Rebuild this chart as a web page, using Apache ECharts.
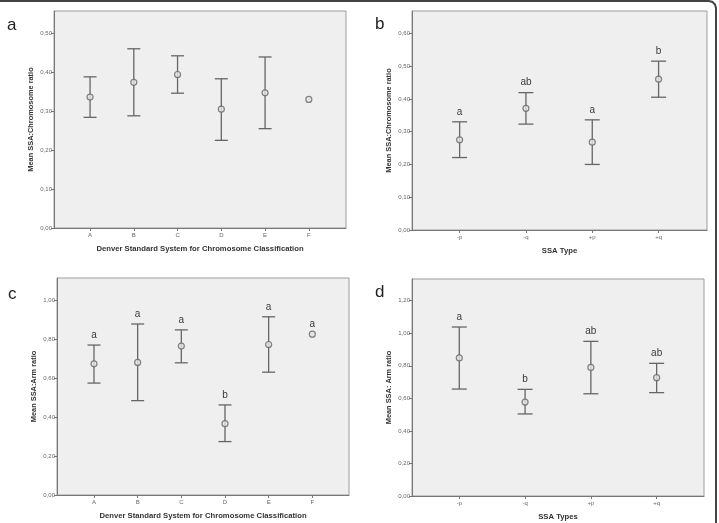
<!DOCTYPE html>
<html><head><meta charset="utf-8">
<script src="https://cdn.jsdelivr.net/npm/echarts@6/dist/echarts.min.js"></script>
<style>html,body{margin:0;padding:0;background:#fff}#c{width:719px;height:523px}</style>
</head><body><div id="c"></div>
<script>
// Panel a: SSA:Chromosome ratio by Denver group
var catsDenver = ['A','B','C','D','E','F'];
var aMean  = [0.336, 0.374, 0.394, 0.305, 0.347, 0.330];
var aUpper = [0.388, 0.460, 0.442, 0.383, 0.439, null];
var aLower = [0.284, 0.288, 0.346, 0.225, 0.255, null];
var aLetters = ['', '', '', '', '', ''];
var aTicks = [0, 0.1, 0.2, 0.3, 0.4, 0.5];

// Panel b: SSA:Chromosome ratio by SSA type
var catsType = ['-p','-q','+p','+q'];
var bMean  = [0.275, 0.371, 0.268, 0.460];
var bUpper = [0.330, 0.419, 0.336, 0.515];
var bLower = [0.221, 0.323, 0.200, 0.405];
var bLetters = ['a','ab','a','b'];
var bTicks = [0, 0.1, 0.2, 0.3, 0.4, 0.5, 0.6];

// Panel c: SSA:Arm ratio by Denver group
var cMean  = [0.673, 0.680, 0.764, 0.366, 0.772, 0.825];
var cUpper = [0.769, 0.877, 0.847, 0.462, 0.914, null];
var cLower = [0.574, 0.484, 0.678, 0.274, 0.630, null];
var cLetters = ['a','a','a','b','a','a'];
var cTicks = [0, 0.2, 0.4, 0.6, 0.8, 1.0];

// Panel d: SSA:Arm ratio by SSA type
var dMean  = [0.848, 0.577, 0.790, 0.727];
var dUpper = [1.038, 0.655, 0.950, 0.815];
var dLower = [0.657, 0.504, 0.628, 0.635];
var dLetters = ['a','b','ab','ab'];
var dTicks = [0, 0.2, 0.4, 0.6, 0.8, 1.0, 1.2];

var panels = [
  {cats: catsDenver, mean: aMean, up: aUpper, lo: aLower, letters: aLetters, ticks: aTicks,
   ymax: 0.557, xmin: 0.176, xmax: 6.85, cap: 6.5,
   grid: {left: 54, top: 11, width: 292, height: 217},
   yName: 'Mean SSA:Chromosome ratio', xName: 'Denver Standard System for Chromosome Classification'},
  {cats: catsType, mean: bMean, up: bUpper, lo: bLower, letters: bLetters, ticks: bTicks,
   ymax: 0.668, xmin: 0.282, xmax: 4.73, cap: 7.5,
   grid: {left: 412, top: 11, width: 295, height: 219},
   yName: 'Mean SSA:Chromosome ratio', xName: 'SSA Type'},
  {cats: catsDenver, mean: cMean, up: cUpper, lo: cLower, letters: cLetters, ticks: cTicks,
   ymax: 1.113, xmin: 0.153, xmax: 6.84, cap: 6.5,
   grid: {left: 57, top: 278, width: 292, height: 217},
   yName: 'Mean SSA:Arm ratio', xName: 'Denver Standard System for Chromosome Classification'},
  {cats: catsType, mean: dMean, up: dUpper, lo: dLower, letters: dLetters, ticks: dTicks,
   ymax: 1.333, xmin: 0.281, xmax: 4.72, cap: 7.5,
   grid: {left: 412, top: 279, width: 292, height: 217},
   yName: 'Mean SSA: Arm ratio', xName: 'SSA Types'}
];

var FONT = 'Liberation Sans, Arial, sans-serif';
var grids = [], xAxes = [], yAxes = [], series = [];
panels.forEach(function (p, i) {
  grids.push(Object.assign({show: true, backgroundColor: '#efefef', borderColor: '#9c9c9c', borderWidth: 1}, p.grid));
  var idx = p.cats.map(function (c, k) { return k + 1; });
  xAxes.push({
    gridIndex: i, type: 'value', min: p.xmin, max: p.xmax,
    name: p.xName, nameLocation: 'middle', nameGap: 17,
    nameTextStyle: {fontFamily: FONT, fontWeight: 'bold', fontSize: 7.7, color: '#333'},
    axisLine: {show: true, onZero: false, lineStyle: {color: '#777', width: 1}},
    axisTick: {show: true, length: 3, customValues: idx, lineStyle: {color: '#777'}},
    axisLabel: {customValues: idx, fontFamily: FONT, fontSize: 6, color: '#666', margin: 4,
      formatter: function (v) { return p.cats[Math.round(v) - 1]; }},
    splitLine: {show: false}
  });
  yAxes.push({
    gridIndex: i, type: 'value', min: 0, max: p.ymax,
    name: p.yName, nameLocation: 'middle', nameGap: 20, nameRotate: 90,
    nameTextStyle: {fontFamily: FONT, fontWeight: 'bold', fontSize: 7.4, color: '#333'},
    axisLine: {show: true, lineStyle: {color: '#777', width: 1}},
    axisTick: {show: true, length: 3, customValues: p.ticks, lineStyle: {color: '#777'}},
    axisLabel: {customValues: p.ticks, fontFamily: FONT, fontSize: 6, color: '#666', margin: 2,
      formatter: function (v) { return v.toFixed(2).replace('.', ','); }},
    splitLine: {show: false}
  });
  var errData = [], meanData = [], letterData = [];
  p.cats.forEach(function (c, k) {
    if (p.up[k] != null) errData.push([k + 1, p.lo[k], p.up[k]]);
    meanData.push([k + 1, p.mean[k]]);
    if (p.letters[k]) letterData.push([k + 1, p.up[k] != null ? p.up[k] : p.mean[k], p.letters[k]]);
  });
  var cap = p.cap;
  series.push({
    type: 'custom', xAxisIndex: i, yAxisIndex: i, data: errData, silent: true,
    renderItem: function (params, api) {
      var x = api.value(0);
      var a = api.coord([x, api.value(1)]);
      var b = api.coord([x, api.value(2)]);
      var st = {stroke: '#666', lineWidth: 1.3};
      return {type: 'group', children: [
        {type: 'line', shape: {x1: a[0], y1: a[1], x2: b[0], y2: b[1]}, style: st},
        {type: 'line', shape: {x1: a[0] - cap, y1: a[1], x2: a[0] + cap, y2: a[1]}, style: st},
        {type: 'line', shape: {x1: b[0] - cap, y1: b[1], x2: b[0] + cap, y2: b[1]}, style: st}
      ]};
    }
  });
  series.push({
    type: 'scatter', xAxisIndex: i, yAxisIndex: i, data: meanData, silent: true,
    symbol: 'circle', symbolSize: 6,
    itemStyle: {color: '#e4e4e4', borderColor: '#666', borderWidth: 1.2}
  });
  if (letterData.length) series.push({
    type: 'custom', xAxisIndex: i, yAxisIndex: i, data: letterData, silent: true,
    renderItem: function (params, api) {
      var pt = api.coord([api.value(0), api.value(1)]);
      return {type: 'text', style: {text: letterData[params.dataIndex][2], x: pt[0], y: pt[1] - 10,
        align: 'center', verticalAlign: 'middle', fontFamily: FONT, fontSize: 10, fill: '#3a3a3a'}};
    }
  });
});

var chart = echarts.init(document.getElementById('c'), null, {renderer: 'canvas'});
chart.setOption({
  animation: false,
  grid: grids, xAxis: xAxes, yAxis: yAxes, series: series,
  graphic: [
    {type: 'polyline', shape: {points: [[0,1],[709,1],[712.5,2],[715,4.5],[716,8],[716,523]]},
     style: {stroke: '#444', lineWidth: 2, fill: null}},
    {type: 'text', left: 7, top: 17, style: {text: 'a', fontFamily: FONT, fontSize: 17, fill: '#222'}},
    {type: 'text', left: 375, top: 16, style: {text: 'b', fontFamily: FONT, fontSize: 17, fill: '#222'}},
    {type: 'text', left: 8, top: 286, style: {text: 'c', fontFamily: FONT, fontSize: 17, fill: '#222'}},
    {type: 'text', left: 375, top: 284, style: {text: 'd', fontFamily: FONT, fontSize: 17, fill: '#222'}}
  ]
});
</script></body></html>
